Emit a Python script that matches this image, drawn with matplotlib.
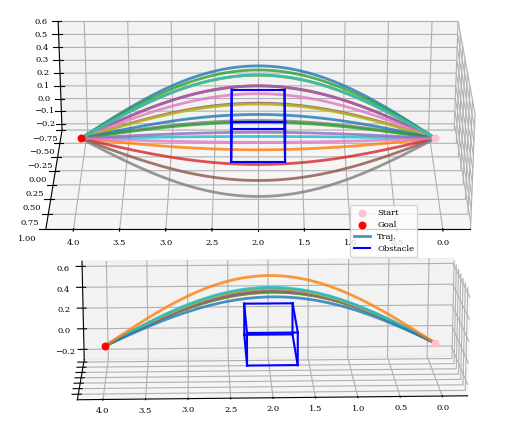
import numpy as np
import matplotlib
matplotlib.use("Agg")
import matplotlib.pyplot as plt

plt.rcParams['font.family'] = ['DejaVu Serif']
plt.rcParams['font.size'] = 6

start = (0.0, 0.0, 0.0)
goal = (4.0, 0.0, 0.0)
top_peaks = [0.55, 0.52, 0.48, 0.42, 0.38, 0.33, 0.28, 0.22, 0.18, 0.12, 0.08, 0.04, 0.0, -0.05, -0.1, -0.15, -0.2, -0.25, 0.5, 0.45]
top_lat = [0.0, 0.1, -0.1, 0.05, -0.05, 0.15, -0.15, 0.2, -0.2, 0.25, -0.25, 0.3, -0.3, 0.35, -0.35, 0.4, -0.4, 0.45, 0.05, -0.08]
bot_peaks = [0.62, 0.6, 0.58, 0.57, 0.55, 0.54, 0.52, 0.5, 0.48, 0.47, 0.6, 0.56]
bot_lat = [0.3, 0.25, 0.2, 0.15, 0.1, 0.05, 0.0, -0.05, -0.1, -0.15, 0.35, -0.2]
obs_x = (1.7, 2.3)
obs_y = (-0.3, 0.3)
obs_z = (-0.05, 0.25)
xticks = [0.0, 0.5, 1.0, 1.5, 2.0, 2.5, 3.0, 3.5, 4.0]

colors = plt.rcParams['axes.prop_cycle'].by_key()['color']
t = np.linspace(0, 1, 60)

def box(ax):
    xs, ys, zs = obs_x, obs_y, obs_z
    first = True
    for y in ys:
        for z in zs:
            ax.plot(xs, [y, y], [z, z], color='blue', lw=1.5, label='Obstacle' if first else None); first = False
    for x in xs:
        for z in zs:
            ax.plot([x, x], ys, [z, z], color='blue', lw=1.5)
        for y in ys:
            ax.plot([x, x], [y, y], zs, color='blue', lw=1.5)

def draw(ax, peaks, lats, elev, azim, legend, aspect):
    ax.patch.set_alpha(0)
    for i, (p, l) in enumerate(zip(peaks, lats)):
        s = np.sin(np.pi * t)
        ax.plot(4 * t, l * s, p * s, color=colors[i % 10], lw=2, alpha=0.8,
                label='Traj.' if i == 0 else None)
    ax.scatter(*[[v] for v in start], color='pink', s=22, label='Start', depthshade=False, zorder=10)
    ax.scatter(*[[v] for v in goal], color='red', s=22, label='Goal', depthshade=False, zorder=10)
    box(ax)
    ax.view_init(elev=elev, azim=azim)
    ax.set_xlim(-0.3, 4.3)
    ax.set_xticks(xticks)
    ax.set_box_aspect(aspect)
    ax.tick_params(pad=0)
    if legend:
        h, lab = ax.get_legend_handles_labels()
        order = [lab.index(k) for k in ['Start', 'Goal', 'Traj.', 'Obstacle']]
        ax.legend([h[i] for i in order], [lab[i] for i in order], loc='lower right',
                  bbox_to_anchor=(0.86, 0.22), fontsize=6)

fig = plt.figure(figsize=(5.3, 4.29), dpi=100)
ax2 = fig.add_axes([-0.3, -0.25, 1.6, 0.95], projection='3d', computed_zorder=False)
draw(ax2, bot_peaks, bot_lat, 15, 88, False, (4, 1.5, 1.1))
ax2.set_yticklabels([])
ax2.set_zlim(-0.3, 0.65)
ax1 = fig.add_axes([-0.3, 0.15, 1.55, 1.1], projection='3d', computed_zorder=False)
draw(ax1, top_peaks, top_lat, 25, 90, True, (4, 2.2, 1.2))
ax1.set_ylim(-0.75, 1.0)
ax1.set_yticks([-0.75, -0.5, -0.25, 0.0, 0.25, 0.5, 0.75, 1.0])
ax1.set_zlim(-0.25, 0.6)
fig.savefig('out.png', dpi=100)
